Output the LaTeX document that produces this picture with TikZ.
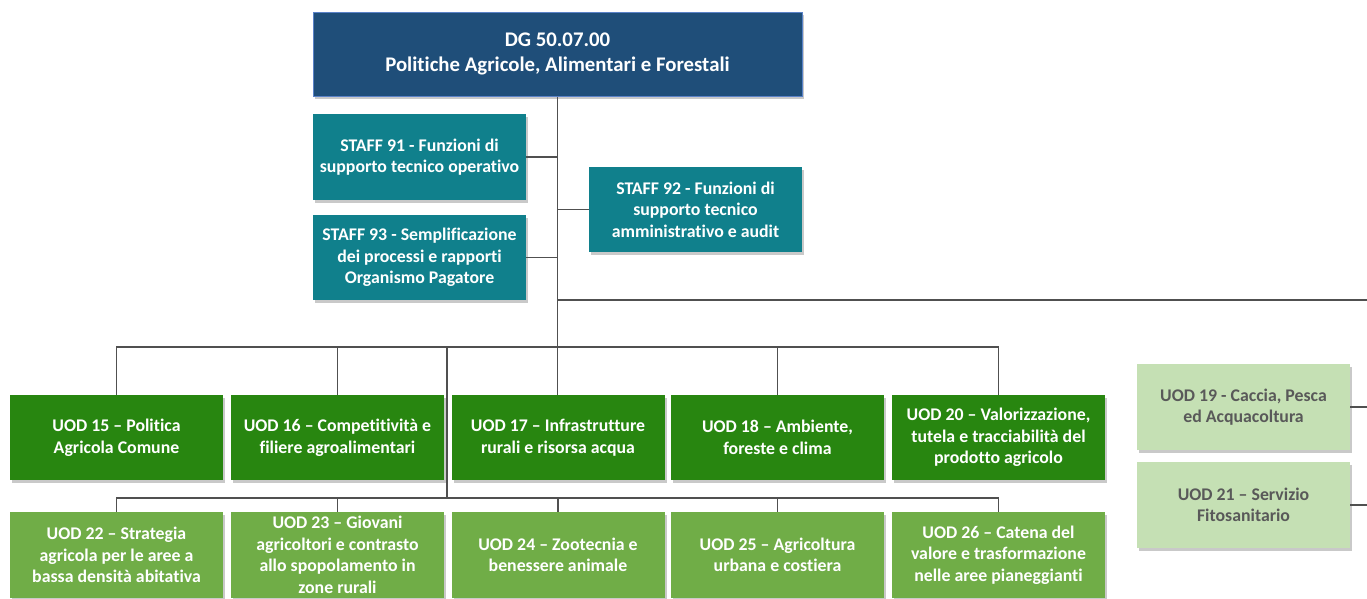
\documentclass[tikz,border=0pt]{standalone}
\usepackage{fontspec}
\setmainfont{Carlito}[Ligatures=NoCommon]
\usetikzlibrary{shadows}
\definecolor{dgblue}{RGB}{31,78,121}
\definecolor{dgborder}{RGB}{90,130,200}
\definecolor{staffteal}{RGB}{16,128,140}
\definecolor{darkgreen}{RGB}{40,134,16}
\definecolor{midgreen}{RGB}{112,173,71}
\definecolor{lightgreen}{RGB}{197,224,180}
\definecolor{linegray}{RGB}{80,80,80}
\definecolor{txtgray}{RGB}{89,89,89}
\tikzset{
  box/.style={minimum width=213pt, minimum height=85pt, inner sep=1pt, align=center,
    text=white, font=\fontsize{17.8}{21.6}\selectfont\bfseries,
    drop shadow={shadow xshift=2pt, shadow yshift=-3pt, opacity=0.35, fill=black!60}},
  dgbox/.style={box, fill=dgblue, draw=dgborder, line width=1pt, minimum width=489pt, minimum height=84pt,
    font=\fontsize{20.8}{25}\selectfont\bfseries},
  staffbox/.style={box, fill=staffteal},
  uodA/.style={box, fill=darkgreen},
  uodB/.style={box, fill=midgreen, minimum height=86pt},
  uodC/.style={box, fill=lightgreen, text=txtgray, minimum height=86pt},
  conn/.style={draw=linegray, line width=1.2pt}
}
\begin{document}
\begin{tikzpicture}[x=1pt,y=-1pt]
\useasboundingbox (0,0) rectangle (1367,598);
\fill[white] (0,0) rectangle (1367,598);
\coordinate (bus1) at (447,347);
\coordinate (bus2) at (447,498);
\coordinate (rt) at (1367,300);
\coordinate (edge) at (1367,0);
% nodes
\node[dgbox] (dg) at (557.5,54) {DG 50.07.00\\Politiche Agricole, Alimentari e Forestali};
\node[staffbox, minimum height=86pt] (s91) at (419.5,157) {STAFF 91 - Funzioni di\\supporto tecnico operativo};
\node[staffbox] (s93) at (419.5,257.5) {STAFF 93 - Semplificazione\\dei processi e rapporti\\Organismo Pagatore};
\node[staffbox] (s92) at (695.5,209.5) {STAFF 92 - Funzioni di\\supporto tecnico\\amministrativo e audit};
\node[uodA] (u15) at (116.5,437.5) {UOD 15 -- Politica\\Agricola Comune};
\node[uodA] (u16) at (337.5,437.5) {UOD 16 -- Competitività e\\filiere agroalimentari};
\node[uodA] (u17) at (558,437.5) {UOD 17 -- Infrastrutture\\rurali e risorsa acqua};
\node[uodA] (u18) at (777.5,437.5) {UOD 18 -- Ambiente,\\foreste e clima};
\node[uodA] (u20) at (998.5,437.5) {UOD 20 -- Valorizzazione,\\tutela e tracciabilità del\\prodotto agricolo};
\node[uodB] (u22) at (116.5,555) {UOD 22 -- Strategia\\agricola per le aree a\\bassa densità abitativa};
\node[uodB] (u23) at (337.5,555) {UOD 23 -- Giovani\\agricoltori e contrasto\\allo spopolamento in\\zone rurali};
\node[uodB] (u24) at (558,555) {UOD 24 -- Zootecnia e\\benessere animale};
\node[uodB] (u25) at (777.5,555) {UOD 25 -- Agricoltura\\urbana e costiera};
\node[uodB] (u26) at (998.5,555) {UOD 26 -- Catena del\\valore e trasformazione\\nelle aree pianeggianti};
\node[uodC] (u19) at (1243.5,407) {UOD 19 - Caccia, Pesca\\ed Acquacoltura};
\node[uodC] (u21) at (1243.5,505) {UOD 21 -- Servizio\\Fitosanitario};
% connectors
\draw[conn] (dg.south) -- (dg.south |- u17.north);
\draw[conn] (s91.east) -- (s91.east -| dg.south);
\draw[conn] (s93.east) -- (s93.east -| dg.south);
\draw[conn] (s92.west) -- (s92.west -| dg.south);
\draw[conn] (rt -| dg.south) -- (rt);
\draw[conn] (u15.north) -- (u15.north |- bus1) -- (u20.north |- bus1) -- (u20.north);
\draw[conn] (u16.north) -- (u16.north |- bus1);
\draw[conn] (u18.north) -- (u18.north |- bus1);
\draw[conn] (bus1) -- (bus2);
\draw[conn] (u22.north) -- (u22.north |- bus2) -- (u26.north |- bus2) -- (u26.north);
\draw[conn] (u23.north) -- (u23.north |- bus2);
\draw[conn] (u24.north) -- (u24.north |- bus2);
\draw[conn] (u25.north) -- (u25.north |- bus2);
\draw[conn] (u19.east) -- (u19.east -| edge);
\draw[conn] (u21.east) -- (u21.east -| edge);
\end{tikzpicture}
\end{document}
